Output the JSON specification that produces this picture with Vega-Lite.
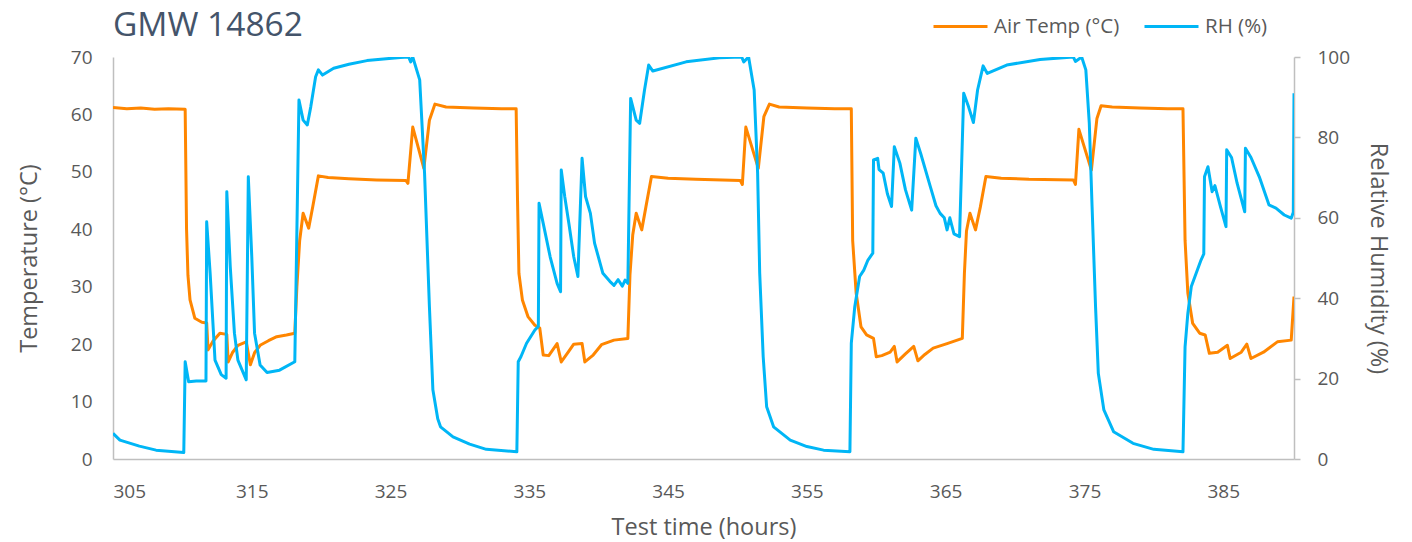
{
  "$schema": "https://vega.github.io/schema/vega-lite/v6.json",
  "autosize": "none",
  "width": 1181,
  "height": 402,
  "padding": {"left": 113, "top": 57, "right": 118, "bottom": 83},
  "background": "white",
  "config": {
    "view": {"stroke": null},
    "font": "Open Sans",
    "axis": {"grid": false, "labelFont": "Open Sans", "titleFont": "Open Sans", "labelColor": "#595959", "titleColor": "#595959", "labelFontSize": 19, "titleFontSize": 23.5, "titleFontWeight": "normal", "domainColor": "#BFBFBF", "domainWidth": 1.5, "tickColor": "#BFBFBF", "tickWidth": 1.5}
  },
  "title": {"text": "GMW 14862", "anchor": "start", "frame": "group", "fontSize": 33.5, "font": "Open Sans", "fontWeight": "normal", "color": "#44546A", "offset": 12, "dy": 57},
  "datasets": {
    "temp": [
      {"h": 305, "v": 61.2}, {"h": 306, "v": 61.0}, {"h": 307, "v": 61.1}, {"h": 308, "v": 60.9}, {"h": 309, "v": 61.0}, {"h": 310.2, "v": 60.9},
      {"h": 310.3, "v": 40}, {"h": 310.4, "v": 32}, {"h": 310.55, "v": 27.7}, {"h": 310.9, "v": 24.5}, {"h": 311.4, "v": 23.8}, {"h": 311.75, "v": 23.7},
      {"h": 311.85, "v": 19.0}, {"h": 312.2, "v": 20.5}, {"h": 312.7, "v": 21.9}, {"h": 313.2, "v": 21.7}, {"h": 313.3, "v": 16.9}, {"h": 313.6, "v": 18.5},
      {"h": 314.0, "v": 19.8}, {"h": 314.6, "v": 20.4}, {"h": 314.9, "v": 16.4}, {"h": 315.2, "v": 18.5}, {"h": 315.6, "v": 19.8}, {"h": 316.2, "v": 20.6},
      {"h": 316.8, "v": 21.3}, {"h": 317.5, "v": 21.6}, {"h": 318.1, "v": 21.9}, {"h": 318.25, "v": 30}, {"h": 318.45, "v": 38}, {"h": 318.7, "v": 42.8},
      {"h": 319.1, "v": 40.2}, {"h": 319.4, "v": 44}, {"h": 319.8, "v": 49.3}, {"h": 320.5, "v": 49.0}, {"h": 322, "v": 48.8}, {"h": 324, "v": 48.6},
      {"h": 326.1, "v": 48.5}, {"h": 326.25, "v": 48.0}, {"h": 326.6, "v": 57.8}, {"h": 327.4, "v": 50.6}, {"h": 327.8, "v": 59}, {"h": 328.2, "v": 61.8},
      {"h": 329, "v": 61.3}, {"h": 331, "v": 61.1}, {"h": 333, "v": 61.0}, {"h": 334.05, "v": 61.0}, {"h": 334.15, "v": 45}, {"h": 334.25, "v": 32.3},
      {"h": 334.5, "v": 27.7}, {"h": 334.9, "v": 24.8}, {"h": 335.4, "v": 23.3}, {"h": 335.75, "v": 22.8}, {"h": 336.0, "v": 18.1}, {"h": 336.4, "v": 18.0},
      {"h": 337.0, "v": 20.1}, {"h": 337.3, "v": 16.9}, {"h": 337.8, "v": 18.6}, {"h": 338.2, "v": 20.0}, {"h": 338.8, "v": 20.1}, {"h": 339.0, "v": 16.9},
      {"h": 339.6, "v": 18.1}, {"h": 340.2, "v": 19.9}, {"h": 341.1, "v": 20.7}, {"h": 342.1, "v": 21.0}, {"h": 342.25, "v": 32}, {"h": 342.45, "v": 39},
      {"h": 342.7, "v": 42.8}, {"h": 343.1, "v": 39.9}, {"h": 343.4, "v": 43.9}, {"h": 343.8, "v": 49.2}, {"h": 345, "v": 48.9}, {"h": 347, "v": 48.7},
      {"h": 350.2, "v": 48.5}, {"h": 350.35, "v": 47.8}, {"h": 350.6, "v": 57.8}, {"h": 351.5, "v": 50.6}, {"h": 351.9, "v": 59.6}, {"h": 352.3, "v": 61.8},
      {"h": 353, "v": 61.3}, {"h": 355, "v": 61.1}, {"h": 357, "v": 61.0}, {"h": 358.2, "v": 61.0}, {"h": 358.3, "v": 38}, {"h": 358.55, "v": 28.9},
      {"h": 358.9, "v": 23.0}, {"h": 359.3, "v": 21.6}, {"h": 359.8, "v": 21.0}, {"h": 360.0, "v": 17.8}, {"h": 360.4, "v": 18.0}, {"h": 361.0, "v": 18.6},
      {"h": 361.3, "v": 19.6}, {"h": 361.5, "v": 16.9}, {"h": 362.1, "v": 18.3}, {"h": 362.7, "v": 19.6}, {"h": 363.0, "v": 17.1}, {"h": 363.5, "v": 18.2},
      {"h": 364.1, "v": 19.3}, {"h": 365.1, "v": 20.1}, {"h": 366.2, "v": 21.0}, {"h": 366.35, "v": 32.3}, {"h": 366.5, "v": 39.7}, {"h": 366.75, "v": 42.8},
      {"h": 367.15, "v": 39.9}, {"h": 367.5, "v": 43.9}, {"h": 367.9, "v": 49.2}, {"h": 369, "v": 48.9}, {"h": 371, "v": 48.7}, {"h": 374.2, "v": 48.6},
      {"h": 374.35, "v": 47.8}, {"h": 374.6, "v": 57.4}, {"h": 375.5, "v": 50.3}, {"h": 375.9, "v": 59.3}, {"h": 376.2, "v": 61.5}, {"h": 377, "v": 61.3},
      {"h": 379, "v": 61.1}, {"h": 381, "v": 61.0}, {"h": 382.1, "v": 61.0}, {"h": 382.25, "v": 38.1}, {"h": 382.45, "v": 28.9}, {"h": 382.8, "v": 23.6},
      {"h": 383.3, "v": 21.9}, {"h": 383.7, "v": 21.6}, {"h": 384.0, "v": 18.4}, {"h": 384.6, "v": 18.6}, {"h": 385.3, "v": 19.8}, {"h": 385.5, "v": 17.5},
      {"h": 386.3, "v": 18.6}, {"h": 386.7, "v": 20.0}, {"h": 387.0, "v": 17.5}, {"h": 387.9, "v": 18.6}, {"h": 388.9, "v": 20.4}, {"h": 389.9, "v": 20.7},
      {"h": 390.1, "v": 28.3}
    ],
    "rh": [
      {"h": 305, "v": 6.4}, {"h": 305.5, "v": 4.7}, {"h": 306.9, "v": 3.2}, {"h": 308.1, "v": 2.2}, {"h": 310.1, "v": 1.6}, {"h": 310.2, "v": 24.2},
      {"h": 310.45, "v": 19.2}, {"h": 311.0, "v": 19.4}, {"h": 311.7, "v": 19.4}, {"h": 311.75, "v": 59.0}, {"h": 312.0, "v": 46.2}, {"h": 312.35, "v": 24.6},
      {"h": 312.8, "v": 21.0}, {"h": 313.15, "v": 20.1}, {"h": 313.2, "v": 66.5}, {"h": 313.45, "v": 47.8}, {"h": 313.75, "v": 31.3}, {"h": 314.0, "v": 24.6},
      {"h": 314.6, "v": 19.7}, {"h": 314.75, "v": 70.2}, {"h": 315.0, "v": 50.3}, {"h": 315.2, "v": 31.3}, {"h": 315.6, "v": 23.4}, {"h": 316.1, "v": 21.5},
      {"h": 317.0, "v": 22.1}, {"h": 318.1, "v": 24.2}, {"h": 318.4, "v": 89.3}, {"h": 318.7, "v": 84.3}, {"h": 319.0, "v": 83.1}, {"h": 319.25, "v": 87.6},
      {"h": 319.6, "v": 95.1}, {"h": 319.8, "v": 96.8}, {"h": 320.1, "v": 95.5}, {"h": 320.9, "v": 97.2}, {"h": 322.0, "v": 98.2}, {"h": 323.3, "v": 99.1},
      {"h": 325.7, "v": 99.9}, {"h": 326.3, "v": 100}, {"h": 326.45, "v": 98.8}, {"h": 326.6, "v": 100}, {"h": 327.1, "v": 94.3}, {"h": 327.45, "v": 71.1},
      {"h": 327.8, "v": 37.9}, {"h": 328.05, "v": 17.2}, {"h": 328.4, "v": 10}, {"h": 328.6, "v": 8.0}, {"h": 329.5, "v": 5.5}, {"h": 330.7, "v": 3.7},
      {"h": 331.9, "v": 2.4}, {"h": 334.1, "v": 1.8}, {"h": 334.2, "v": 24.2}, {"h": 334.4, "v": 25.5}, {"h": 334.8, "v": 28.8}, {"h": 335.4, "v": 32.1},
      {"h": 335.65, "v": 33}, {"h": 335.7, "v": 63.6}, {"h": 336.0, "v": 58.6}, {"h": 336.5, "v": 50.3}, {"h": 337.0, "v": 43.7}, {"h": 337.25, "v": 41.6},
      {"h": 337.3, "v": 71.9}, {"h": 337.55, "v": 65.3}, {"h": 337.85, "v": 58.6}, {"h": 338.2, "v": 50.3}, {"h": 338.5, "v": 45.4}, {"h": 338.8, "v": 74.8},
      {"h": 339.05, "v": 65.3}, {"h": 339.4, "v": 61.1}, {"h": 339.7, "v": 53.7}, {"h": 340.3, "v": 46.2}, {"h": 340.8, "v": 44.2}, {"h": 341.1, "v": 43.2},
      {"h": 341.4, "v": 44.6}, {"h": 341.7, "v": 43.0}, {"h": 341.9, "v": 44.5}, {"h": 342.1, "v": 43.7}, {"h": 342.3, "v": 89.7}, {"h": 342.7, "v": 84.3},
      {"h": 342.95, "v": 83.5}, {"h": 343.3, "v": 91.8}, {"h": 343.6, "v": 98.0}, {"h": 343.9, "v": 96.5}, {"h": 346.3, "v": 98.8}, {"h": 348.7, "v": 99.8},
      {"h": 350.3, "v": 100}, {"h": 350.45, "v": 98.8}, {"h": 350.8, "v": 100}, {"h": 351.2, "v": 91.8}, {"h": 351.45, "v": 71.1}, {"h": 351.6, "v": 46.2},
      {"h": 351.85, "v": 25.5}, {"h": 352.1, "v": 13.0}, {"h": 352.6, "v": 8.0}, {"h": 353.8, "v": 4.7}, {"h": 355.0, "v": 3.1}, {"h": 356.2, "v": 2.2},
      {"h": 358.1, "v": 1.8}, {"h": 358.2, "v": 28.8}, {"h": 358.45, "v": 37.9}, {"h": 358.8, "v": 45.4}, {"h": 359.1, "v": 47.0}, {"h": 359.4, "v": 49.5},
      {"h": 359.75, "v": 51.2}, {"h": 359.8, "v": 74.4}, {"h": 360.1, "v": 74.8}, {"h": 360.2, "v": 72.0}, {"h": 360.5, "v": 71.1}, {"h": 360.8, "v": 66.0},
      {"h": 361.1, "v": 62.8}, {"h": 361.3, "v": 77.7}, {"h": 361.7, "v": 73.6}, {"h": 362.1, "v": 67.0}, {"h": 362.55, "v": 61.9}, {"h": 362.85, "v": 79.8},
      {"h": 363.2, "v": 76.0}, {"h": 363.9, "v": 67.7}, {"h": 364.3, "v": 63.0}, {"h": 364.6, "v": 61.1}, {"h": 364.9, "v": 60.0}, {"h": 365.1, "v": 57.0},
      {"h": 365.3, "v": 60.0}, {"h": 365.6, "v": 56.0}, {"h": 366.0, "v": 55.3}, {"h": 366.3, "v": 91.0}, {"h": 366.65, "v": 87.6}, {"h": 367.0, "v": 83.7},
      {"h": 367.3, "v": 91.8}, {"h": 367.7, "v": 97.8}, {"h": 368.0, "v": 95.9}, {"h": 369.4, "v": 98.0}, {"h": 371.8, "v": 99.4}, {"h": 374.2, "v": 100},
      {"h": 374.35, "v": 98.9}, {"h": 374.8, "v": 100}, {"h": 375.1, "v": 96.8}, {"h": 375.35, "v": 83.5}, {"h": 375.55, "v": 62.8}, {"h": 375.8, "v": 37.9},
      {"h": 376.0, "v": 21.3}, {"h": 376.4, "v": 12.2}, {"h": 377.1, "v": 6.8}, {"h": 378.5, "v": 3.9}, {"h": 380.0, "v": 2.4}, {"h": 382.1, "v": 1.8},
      {"h": 382.25, "v": 27.9}, {"h": 382.45, "v": 36.2}, {"h": 382.7, "v": 42.9}, {"h": 383.05, "v": 46.2}, {"h": 383.4, "v": 49.5}, {"h": 383.6, "v": 51},
      {"h": 383.65, "v": 70.2}, {"h": 383.9, "v": 72.7}, {"h": 384.2, "v": 66.5}, {"h": 384.4, "v": 68}, {"h": 384.8, "v": 62.8}, {"h": 385.2, "v": 57.8},
      {"h": 385.25, "v": 76.9}, {"h": 385.6, "v": 75}, {"h": 386.0, "v": 68.6}, {"h": 386.55, "v": 61.5}, {"h": 386.6, "v": 77.3}, {"h": 387.0, "v": 75},
      {"h": 387.6, "v": 70.2}, {"h": 388.3, "v": 63.2}, {"h": 388.8, "v": 62.4}, {"h": 389.4, "v": 60.7}, {"h": 389.9, "v": 59.9}, {"h": 390.05, "v": 61.4},
      {"h": 390.1, "v": 91}
    ]
  },
  "layer": [
    {
      "data": {"name": "temp"},
      "mark": {"type": "line", "strokeWidth": 3, "strokeJoin": "round", "clip": true},
      "encoding": {
        "x": {"field": "h", "type": "quantitative", "scale": {"domain": [305, 390.1], "nice": false, "zero": false},
          "axis": {"values": [305, 315, 325, 335, 345, 355, 365, 375, 385], "ticks": false, "tickSize": 0, "labelPadding": 23, "title": "Test time (hours)", "titlePadding": 14}},
        "y": {"field": "v", "type": "quantitative", "scale": {"domain": [0, 70], "nice": false},
          "axis": {"orient": "left", "values": [0, 10, 20, 30, 40, 50, 60, 70], "ticks": false, "tickSize": 0, "labelPadding": 21, "title": "Temperature (°C)", "titlePadding": 29}},
        "color": {"datum": "Air Temp (°C)", "type": "nominal",
          "scale": {"domain": ["Air Temp (°C)", "RH (%)"], "range": ["#FF8600", "#00B6F6"]},
          "legend": {"title": null, "orient": "none", "legendX": 819, "legendY": -59, "direction": "horizontal", "symbolType": "stroke", "symbolSize": 2916, "symbolStrokeWidth": 3, "labelFontSize": 20.5, "labelFont": "Open Sans", "labelColor": "#595959", "labelOffset": 5, "columnPadding": 18, "padding": 0}}
      }
    },
    {
      "data": {"name": "rh"},
      "mark": {"type": "line", "strokeWidth": 3, "strokeJoin": "round", "clip": true},
      "encoding": {
        "x": {"field": "h", "type": "quantitative"},
        "y": {"field": "v", "type": "quantitative", "scale": {"domain": [0, 100], "nice": false},
          "axis": {"orient": "right", "values": [0, 20, 40, 60, 80, 100], "ticks": true, "tickSize": 6, "labelPadding": 17, "title": "Relative Humidity (%)", "titlePadding": 16}},
        "color": {"datum": "RH (%)", "type": "nominal"}
      }
    }
  ],
  "resolve": {"scale": {"y": "independent"}}
}
